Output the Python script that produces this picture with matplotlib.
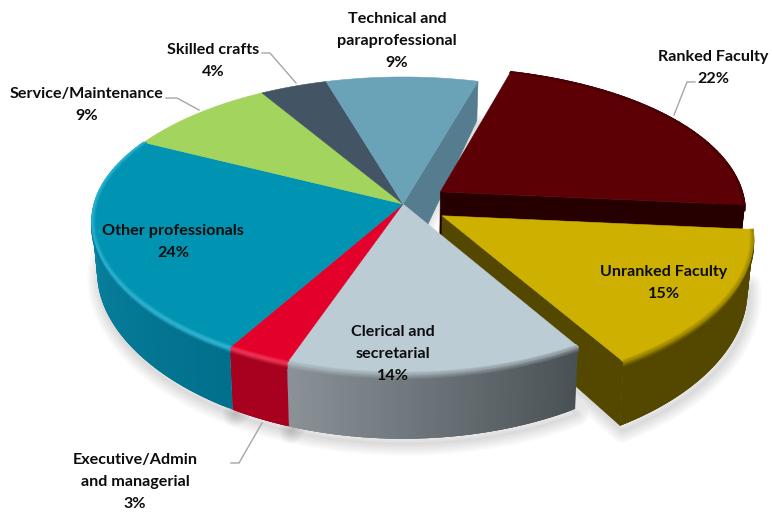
import numpy as np
import matplotlib
matplotlib.use('Agg')
import matplotlib.pyplot as plt
from matplotlib.collections import LineCollection
from matplotlib.colors import to_rgb
from matplotlib.patches import Polygon

plt.rcParams['font.family'] = ['Lato', 'DejaVu Sans']

# Slices, clockwise from the first one
categories = ['Ranked Faculty', 'Unranked Faculty', 'Clerical and\nsecretarial',
              'Executive/Admin\nand managerial', 'Other professionals',
              'Service/Maintenance', 'Skilled crafts', 'Technical and\nparaprofessional']
values = [22, 15, 14, 3, 24, 9, 4, 9]
exploded = [0.15, 0.15, 0, 0, 0, 0, 0, 0]

top_colors = ['#5C0006', '#CDB000', '#BCCCD4', '#E3002B', '#0093B2', '#A2D45E', '#435565', '#6AA2B8']
# side colour at the start and end of each slice's outer wall (clockwise)
side_start = ['#260000', '#544800', '#4A5155', '#A8001F', '#00708C', '#0F8BAA', '#33434F', '#557D8F']
side_end = ['#260000', '#544800', '#8A9298', '#A8001F', '#0F8BAA', '#0F8BAA', '#33434F', '#557D8F']
glow = [None, None, None, '#F03C5C', '#35BAD6', None, None, None]

label_x = [713, 664, 393, 135, 173, 87, 213, 397]
label_y = [67, 282, 353, 481, 241, 104, 60, 40]

leaders = {
    'Ranked Faculty': ([674, 687, 695], [115, 82, 82]),
    'Skilled crafts': ([262, 270, 296], [53, 53, 83]),
    'Service/Maintenance': ([166, 177, 199], [98, 98, 110]),
    'Executive/Admin': ([231, 239, 262], [463, 463, 423]),
}

# Tilted disc: pixel centre, radii, perspective strength, and the lower face
CX, CY = 403, 204
A, B, K, KX = 305, 145.4, 0.1447, 0.125
A2, B2, CY2 = 300, 158, 254
LEFT_BULGE = 0.012
START = 16.0


def project(theta, r, ex, ey, lower=False):
    theta = np.radians(theta)
    px = r * np.sin(theta) + ex
    py = r * np.cos(theta) + ey
    w = 1 + K * py
    wx = 1 + KX * py
    # the far left of the disc sits slightly wider than the right
    px = np.where(px < 0, px * (1 + LEFT_BULGE * (1 - np.minimum(py ** 2, 1)) ** 3), px)
    if lower:
        return CX + A2 * px / wx, CY2 - B2 * py / w
    return CX + A * px / wx, CY - B * py / w


def mix(c1, c2, t):
    c1, c2 = np.array(to_rgb(c1)), np.array(to_rgb(c2))
    return tuple(c1 + (c2 - c1) * t)


fig = plt.figure(figsize=(7.72, 5.13), dpi=100)
ax = fig.add_axes([0, 0, 1, 1])
ax.set_xlim(0, 772)
ax.set_ylim(513, 0)
ax.axis('off')

# Slice angles and explosion offsets
angles = START + np.cumsum([0] + values) * 3.6
slices = []
for i in range(len(values)):
    t0, t1 = angles[i], angles[i + 1]
    mid = np.radians((t0 + t1) / 2)
    slices.append((t0, t1, exploded[i] * np.sin(mid), exploded[i] * np.cos(mid)))


def sector(i, lower=False):
    t0, t1, ex, ey = slices[i]
    th = np.linspace(t0, t1, 80)
    x, y = project(th, 1, ex, ey, lower)
    tx, ty = project(0, 0, ex, ey, lower)
    return np.column_stack([np.r_[tx, x], np.r_[ty, y]])


def draw_top(i, z):
    ax.add_patch(Polygon(sector(i), closed=True, fc=top_colors[i], ec=top_colors[i], lw=0.4, zorder=z))


def draw_radial_wall(i, theta, color, z, hub_drop=0):
    _, _, ex, ey = slices[i]
    x0, y0 = project(0, 0, ex, ey)
    x1, y1 = project(theta, 1, ex, ey)
    x2, y2 = project(theta, 1, ex, ey, True)
    x3, y3 = project(0, 0, ex, ey, True)
    pts = [(x0, y0), (x1, y1), (x2, y2), (x3, y3 + hub_drop)]
    ax.add_patch(Polygon(pts, closed=True, fc=color, ec=color, lw=0.4, zorder=z))


def draw_outer_wall(i, z):
    t0, t1, ex, ey = slices[i]
    n_strips = 90
    edges = np.linspace(t0, t1, n_strips + 1)
    # strips overlap the next one so no seams show through
    for j in range(n_strips):
        th = np.array([edges[j], edges[min(j + 3, n_strips)]])
        x, y = project(th, 1, ex, ey)
        x2, y2 = project(th, 1, ex, ey, True)
        col = mix(side_start[i], side_end[i], j / (n_strips - 1))
        pts = np.column_stack([np.r_[x, x2[::-1]], np.r_[y, y2[::-1]]])
        ax.add_patch(Polygon(pts, closed=True, fc=col, ec='none', zorder=z))


def draw_bevel(i, z, outer):
    # soft roll from the top face into the wall, along the rim
    t0, t1, ex, ey = slices[i]
    th = np.linspace(t0, t1, 61)
    offsets = np.linspace(0, 6, 8) if outer else np.linspace(-3.5, 0, 5)
    for off in offsets:
        t = (off + 3.5) / 9.5
        if off < 0:
            x, y = project(th, 1 + off / 300, ex, ey)
        else:
            x, y = project(th, 1, ex, ey)
            y = y + off
        segs, cols = [], []
        for j in range(60):
            side = mix(side_start[i], side_end[i], j / 59)
            if glow[i]:
                col = mix(top_colors[i], glow[i], t * 2) if t < 0.5 else mix(glow[i], side, t * 2 - 1)
            else:
                col = mix(top_colors[i], side, t)
            segs.append([(x[j], y[j]), (x[j + 1], y[j + 1])])
            cols.append(col)
        ax.add_collection(LineCollection(segs, colors=cols, linewidths=1.1, zorder=z, capstyle='round'))


# Drop shadow under the lower faces
for i in range(len(values)):
    pts = sector(i, True) + np.array([2, 5])
    for lw in range(2, 20, 3):
        ax.add_patch(Polygon(pts, closed=True, fc='none', ec='black', lw=lw, alpha=0.022,
                             joinstyle='round', zorder=1))

# Back wall of the last slice, seen through the gap left by the exploded pair
draw_radial_wall(7, angles[0], side_start[7], 2, hub_drop=23)

# Ranked Faculty and Unranked Faculty, back to front
z = 3
for i, theta in [(0, angles[1]), (1, angles[2])]:
    draw_radial_wall(i, theta, side_start[i], z)
    draw_outer_wall(i, z)
    draw_bevel(i, z + 0.1, True)
    draw_top(i, z + 0.2)
    draw_bevel(i, z + 0.3, False)
    z += 1

# Rest of the disc
for i in (2, 3, 4):
    draw_outer_wall(i, 6)
    draw_bevel(i, 6.1, True)
for i in range(2, 8):
    draw_top(i, 7)
for i in (2, 3, 4):
    draw_bevel(i, 7.1, False)

# Leader lines
for key in leaders:
    lx, ly = leaders[key]
    ax.plot(lx, ly, color='#A6A6A6', lw=1.0, zorder=9, solid_joinstyle='miter')

# Labels
for i in range(len(values)):
    ax.text(label_x[i], label_y[i] + 1, f'{categories[i]}\n{values[i]}%', ha='center', va='center',
            fontsize=11.6, fontweight='bold', color='#0D0D0D', linespacing=1.72, zorder=10)

fig.savefig('out.png', dpi=100)
